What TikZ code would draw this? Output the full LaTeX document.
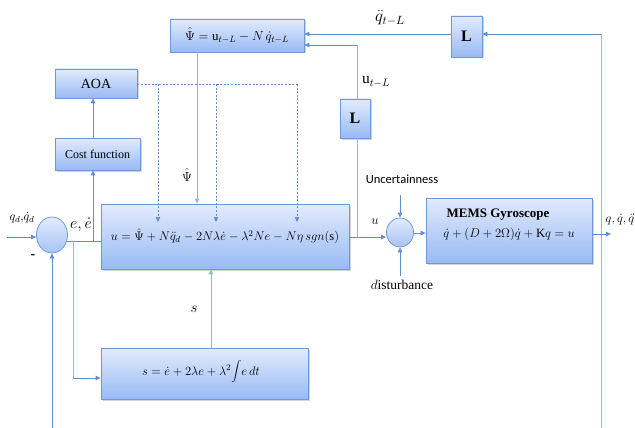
\RequirePackage{fix-cm}
\documentclass[tikz,border=0pt]{standalone}
\usepackage{fontspec}
\setmainfont{Liberation Serif}
\newfontfamily\calib{Carlito}
\usetikzlibrary{arrows.meta,shadows,shapes.geometric,calc}
\definecolor{ln}{RGB}{98,142,208}
\definecolor{lnl}{RGB}{150,180,226}
\definecolor{bd}{RGB}{112,152,214}
\definecolor{topc}{RGB}{226,235,253}
\definecolor{botc}{RGB}{152,186,244}
\tikzset{
  blk/.style={draw=bd, line width=0.8pt, top color=topc, bottom color=botc,
    drop shadow={shadow xshift=1.5pt, shadow yshift=-1.5pt, opacity=0.35, fill=gray},
    inner sep=0pt, align=center},
  sumc/.style={ellipse, draw=bd, line width=0.8pt, top color=topc, bottom color=botc!85!white, inner sep=0pt},
  wire/.style={draw=ln, line width=0.8pt},
  lwire/.style={draw=lnl, line width=0.9pt},
  arr/.style={-{Triangle[length=5pt,width=4.5pt]}},
  dwire/.style={draw=ln, line width=0.6pt, dash pattern=on 2pt off 1.6pt},
  lbl/.style={inner sep=0pt}
}
\begin{document}
\begin{tikzpicture}[x=1pt,y=-1pt]
\useasboundingbox (0,0) rectangle (635,428);
% blocks
\node[blk, minimum width=134pt, minimum height=33pt, font=\fontsize{13}{15}\selectfont] (psi) at (237,35.5) {$\hat{\Psi} = \mathrm{u}_{t-L} - N\,\dot{q}_{t-L}$};
\node[blk, minimum width=31pt, minimum height=41pt, font=\fontsize{16}{18}\selectfont\bfseries] (Lt) at (466.5,36.5) {L};
\node[blk, minimum width=30pt, minimum height=39pt, font=\fontsize{16}{18}\selectfont\bfseries] (Lm) at (355,118.5) {L};
\node[blk, minimum width=82pt, minimum height=29pt, font=\fontsize{14}{16}\selectfont] (aoa) at (96,83.5) {AOA};
\node[blk, minimum width=85pt, minimum height=32pt, font=\fontsize{12}{14}\selectfont] (cost) at (97.5,154) {Cost function};
\node[blk, minimum width=248pt, minimum height=65pt, font=\fontsize{12.5}{15}\selectfont] (ctrl) at (225,236.5) {$u = \hat{\Psi} + N\ddot{q}_d - 2N\lambda\dot{e} - \lambda^2 Ne - N\eta\, sgn(\mathrm{s})$};
\node[blk, minimum width=207pt, minimum height=51pt] (sbox) at (204.5,373.5) {};
\node[lbl, font=\fontsize{12.5}{15}\selectfont] (sboxt) at (201,372) {$s = \dot{e} + 2\lambda e + \lambda^2 \!\displaystyle\int\! e\, dt$};
\node[blk, minimum width=166pt, minimum height=65pt] (mems) at (509,230.5) {};
\node[lbl, font=\fontsize{13}{15}\selectfont\bfseries] (memst) at (498,215) {MEMS Gyroscope};
\node[lbl, font=\fontsize{12.6}{15}\selectfont] (memse) at (509,234) {$\dot{q} + (D + 2\Omega)\dot{q} + \mathrm{K}q = u$};
\node[sumc, minimum width=31pt, minimum height=36pt] (s1) at (52,235) {};
\node[sumc, minimum width=27pt, minimum height=29pt] (s2) at (400,232.5) {};
% labels
\node[lbl, font=\fontsize{12.5}{15}\selectfont] (lq) at (22,218) {$q_d,\!\dot{q}_d$};
\node[lbl, font=\fontsize{16}{18}\selectfont] (le) at (81,225) {$e,\dot{e}$};
\node[lbl, font=\fontsize{14}{16}\selectfont\bfseries] (lm) at (33,257) {-};
\node[lbl, font=\fontsize{13}{15}\selectfont] (lpsi) at (187,175) {$\hat{\Psi}$};
\node[lbl, font=\fontsize{15}{17}\selectfont] (ls) at (194,309) {$s$};
\node[lbl, font=\fontsize{13}{15}\selectfont] (lu) at (375,222) {$u$};
\node[lbl, font=\fontsize{12.5}{15}\selectfont\calib] (lunc) at (402,179) {Uncertainness};
\node[lbl, font=\fontsize{13.5}{16}\selectfont] (ldis) at (402,285) {$d$isturbance};
\node[lbl, font=\fontsize{17}{19}\selectfont] (lqdd) at (390,18) {$\ddot{q}_{t-L}$};
\node[lbl, font=\fontsize{15.5}{17}\selectfont] (lut) at (376,82) {$\mathrm{u}_{t-L}$};
\node[lbl, font=\fontsize{12.5}{14}\selectfont] (lout) at (620,220) {$q,\dot{q},\ddot{q}$};
% coordinates
\coordinate (in1) at (7,237);
\coordinate (e1) at (66.5,241);
\coordinate (b1) at (93,241);
\coordinate (b2) at (73,241);
\coordinate (b2d) at (73,378);
\coordinate (uin) at (349,237);
\coordinate (ub) at (357,237);
\coordinate (ptop) at (357,45);
\coordinate (rv) at (601,34);
\coordinate (rvb) at (601,428);
\coordinate (lvb) at (52,428);
\coordinate (out) at (611,234);
\coordinate (unc) at (400,195);
\coordinate (dis) at (400,276);
\coordinate (dh) at (297,84);
% connectors
\draw[wire, arr] (in1) -- (in1 -| s1.west);
\draw[wire] (e1) -- (e1 -| ctrl.west);
\draw[wire, arr] (b1) -- (b1 |- cost.south);
\draw[wire, arr] (b1 |- cost.north) -- (b1 |- aoa.south);
\draw[lwire] (b2) -- (b2d);
\draw[wire, arr] (b2d) -- (b2d -| sbox.west);
\draw[lwire, arr] (sbox.north -| 211,0) -- (ctrl.south -| 211,0);
\draw[lwire, arr] (psi.south -| 197,0) -- (ctrl.north -| 197,0);
\draw[wire, arr] (uin) -- (uin -| s2.west);
\draw[lwire] (ub) -- (ub |- Lm.south);
\draw[lwire] (ub |- Lm.north) -- (ptop);
\draw[wire, arr] (ptop) -- (ptop -| psi.east);
\draw[wire, arr] (Lt.west |- 0,34) -- (psi.east |- 0,34);
\draw[lwire] (rvb) -- (rv);
\draw[wire, arr] (rv) -- (rv -| Lt.east);
\draw[wire, arr] (lvb) -- (s1.south);
\draw[wire, arr] (mems.east |- out) -- (out);
\draw[wire, arr] (s2.east |- 0,233) -- (mems.west |- 0,233);
\draw[wire, arr] (unc) -- (s2.north);
\draw[wire, arr] (dis) -- (s2.south);
\draw[dwire] (aoa.east |- dh) -- (dh);
\draw[dwire, arr] (158,84) -- (158,222);
\draw[dwire, arr] (216,84) -- (216,222);
\draw[dwire, arr] (dh) -- (297,222);
\end{tikzpicture}
\end{document}
